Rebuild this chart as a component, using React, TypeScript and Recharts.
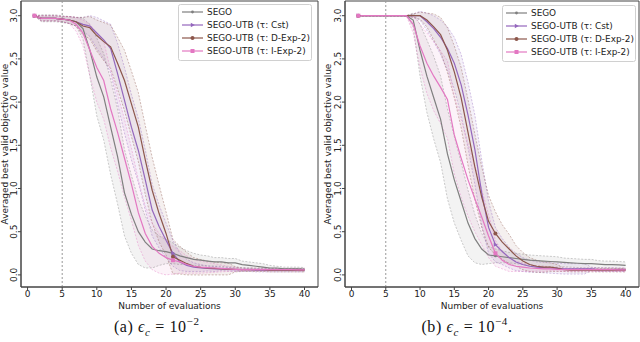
import React from "react";
import {
  ComposedChart,
  Area,
  Line,
  XAxis,
  YAxis,
  ReferenceLine,
  ReferenceArea,
} from "recharts";

const evaluations = [
  1, 2, 3, 4, 5, 6, 7, 8, 9, 10, 11, 12, 13, 14, 15, 16, 17, 18, 19, 20, 21,
  22, 23, 24, 25, 26, 27, 28, 29, 30, 31, 32, 33, 34, 35, 36, 37, 38, 39, 40,
];
const xTicks = [0, 5, 10, 15, 20, 25, 30, 35, 40];
const yTicks = [0, 0.5, 1.0, 1.5, 2.0, 2.5, 3.0];

// (a) eps_c = 1e-2
const segoMeanA = [3.0, 2.97, 2.97, 2.97, 2.96, 2.95, 2.93, 2.85, 2.6, 2.29, 2.06, 1.71, 1.37, 0.95, 0.7, 0.5, 0.38, 0.3, 0.28, 0.27, 0.25, 0.22, 0.2, 0.18, 0.17, 0.16, 0.15, 0.15, 0.14, 0.14, 0.12, 0.11, 0.1, 0.09, 0.08, 0.08, 0.07, 0.07, 0.07, 0.065];
const segoStdA = [0, 0.04, 0.04, 0.04, 0.04, 0.04, 0.05, 0.12, 0.3, 0.45, 0.5, 0.55, 0.55, 0.5, 0.45, 0.38, 0.3, 0.22, 0.17, 0.14, 0.12, 0.1, 0.08, 0.07, 0.06, 0.06, 0.05, 0.05, 0.05, 0.05, 0.04, 0.04, 0.04, 0.04, 0.03, 0.02, 0.02, 0.02, 0.02, 0.02];
const cstMeanA = [3.0, 2.97, 2.97, 2.97, 2.96, 2.95, 2.93, 2.9, 2.88, 2.8, 2.72, 2.62, 2.33, 2.02, 1.71, 1.44, 1.1, 0.75, 0.56, 0.4, 0.25, 0.15, 0.11, 0.09, 0.08, 0.075, 0.07, 0.07, 0.065, 0.06, 0.06, 0.06, 0.055, 0.055, 0.055, 0.055, 0.055, 0.055, 0.055, 0.055];
const cstStdA = [0, 0.03, 0.03, 0.03, 0.03, 0.04, 0.05, 0.08, 0.12, 0.18, 0.22, 0.28, 0.35, 0.38, 0.38, 0.37, 0.35, 0.3, 0.25, 0.2, 0.15, 0.1, 0.07, 0.05, 0.04, 0.03, 0.03, 0.02, 0.02, 0.02, 0.02, 0.02, 0.02, 0.02, 0.02, 0.02, 0.02, 0.02, 0.02, 0.02];
const dexpMeanA = [3.0, 2.97, 2.97, 2.97, 2.96, 2.95, 2.93, 2.88, 2.86, 2.77, 2.7, 2.64, 2.45, 2.25, 1.98, 1.71, 1.33, 0.98, 0.71, 0.48, 0.21, 0.17, 0.13, 0.1, 0.088, 0.08, 0.075, 0.07, 0.068, 0.065, 0.06, 0.06, 0.06, 0.06, 0.055, 0.055, 0.055, 0.055, 0.055, 0.055];
const dexpStdA = [0, 0.03, 0.03, 0.03, 0.03, 0.04, 0.05, 0.1, 0.13, 0.18, 0.22, 0.25, 0.3, 0.35, 0.38, 0.4, 0.4, 0.38, 0.33, 0.25, 0.2, 0.16, 0.13, 0.1, 0.09, 0.08, 0.075, 0.07, 0.068, 0.03, 0.02, 0.02, 0.02, 0.02, 0.02, 0.02, 0.02, 0.02, 0.02, 0.02];
const iexpMeanA = [3.0, 2.97, 2.97, 2.97, 2.96, 2.95, 2.9, 2.8, 2.6, 2.4, 2.25, 1.92, 1.65, 1.35, 1.05, 0.72, 0.48, 0.33, 0.25, 0.2, 0.17, 0.15, 0.12, 0.1, 0.09, 0.085, 0.08, 0.075, 0.07, 0.065, 0.06, 0.06, 0.06, 0.06, 0.06, 0.06, 0.06, 0.06, 0.058, 0.058];
const iexpStdA = [0, 0.03, 0.03, 0.03, 0.03, 0.04, 0.08, 0.15, 0.3, 0.4, 0.45, 0.45, 0.45, 0.45, 0.42, 0.38, 0.32, 0.27, 0.23, 0.2, 0.16, 0.13, 0.1, 0.08, 0.07, 0.06, 0.05, 0.04, 0.03, 0.02, 0.01, 0.01, 0.01, 0.01, 0.01, 0.01, 0.01, 0.01, 0.01, 0.01];

// (b) eps_c = 1e-4
const segoMeanB = [3.0, 3.0, 3.0, 3.0, 3.0, 3.0, 3.0, 3.0, 2.95, 2.6, 2.3, 2.05, 1.8, 1.4, 1.1, 0.85, 0.6, 0.42, 0.3, 0.23, 0.22, 0.21, 0.2, 0.19, 0.18, 0.17, 0.165, 0.16, 0.155, 0.15, 0.145, 0.14, 0.135, 0.13, 0.13, 0.125, 0.12, 0.12, 0.115, 0.11];
const segoStdB = [0, 0, 0, 0, 0, 0, 0, 0, 0.08, 0.3, 0.42, 0.48, 0.5, 0.52, 0.5, 0.45, 0.38, 0.28, 0.18, 0.1, 0.08, 0.07, 0.06, 0.06, 0.06, 0.06, 0.06, 0.06, 0.06, 0.06, 0.05, 0.05, 0.05, 0.05, 0.05, 0.04, 0.04, 0.04, 0.04, 0.04];
const cstMeanB = [3.0, 3.0, 3.0, 3.0, 3.0, 3.0, 3.0, 3.0, 3.0, 3.0, 2.93, 2.85, 2.75, 2.62, 2.45, 2.2, 1.85, 1.45, 0.95, 0.55, 0.35, 0.27, 0.2, 0.15, 0.12, 0.1, 0.09, 0.085, 0.08, 0.075, 0.07, 0.07, 0.07, 0.07, 0.07, 0.06, 0.06, 0.06, 0.06, 0.06];
const cstStdB = [0, 0, 0, 0, 0, 0, 0, 0, 0.02, 0.05, 0.1, 0.15, 0.2, 0.25, 0.3, 0.35, 0.38, 0.4, 0.38, 0.3, 0.2, 0.15, 0.12, 0.1, 0.08, 0.07, 0.06, 0.06, 0.06, 0.06, 0.06, 0.06, 0.06, 0.06, 0.02, 0.02, 0.02, 0.02, 0.02, 0.02];
const dexpMeanB = [3.0, 3.0, 3.0, 3.0, 3.0, 3.0, 3.0, 3.0, 3.0, 3.0, 2.95, 2.87, 2.78, 2.6, 2.35, 2.05, 1.65, 1.25, 0.9, 0.62, 0.48, 0.38, 0.3, 0.22, 0.16, 0.12, 0.1, 0.09, 0.09, 0.08, 0.06, 0.055, 0.055, 0.055, 0.055, 0.055, 0.055, 0.055, 0.055, 0.055];
const dexpStdB = [0, 0, 0, 0, 0, 0, 0, 0, 0.02, 0.04, 0.08, 0.15, 0.2, 0.26, 0.3, 0.35, 0.38, 0.38, 0.35, 0.3, 0.25, 0.2, 0.17, 0.12, 0.1, 0.08, 0.07, 0.06, 0.05, 0.04, 0.02, 0.02, 0.02, 0.02, 0.02, 0.02, 0.02, 0.02, 0.02, 0.02];
const iexpMeanB = [3.0, 3.0, 3.0, 3.0, 3.0, 3.0, 3.0, 3.0, 2.9, 2.65, 2.45, 2.3, 2.17, 2.03, 1.62, 1.35, 1.1, 0.88, 0.67, 0.45, 0.25, 0.17, 0.12, 0.1, 0.09, 0.08, 0.075, 0.07, 0.07, 0.065, 0.06, 0.06, 0.06, 0.06, 0.06, 0.06, 0.06, 0.06, 0.058, 0.058];
const iexpStdB = [0, 0, 0, 0, 0, 0, 0, 0, 0.1, 0.25, 0.35, 0.4, 0.42, 0.45, 0.45, 0.45, 0.42, 0.38, 0.32, 0.25, 0.15, 0.1, 0.08, 0.06, 0.05, 0.04, 0.03, 0.03, 0.02, 0.02, 0.02, 0.02, 0.02, 0.02, 0.02, 0.02, 0.02, 0.02, 0.02, 0.02];

const SERIES = [
  { key: "sego", name: "SEGO", color: "#7f7f7f", marker: "point" },
  { key: "cst", name: "SEGO-UTB (τ: Cst)", color: "#9467bd", marker: "triangle" },
  { key: "dexp", name: "SEGO-UTB (τ: D-Exp-2)", color: "#8c564b", marker: "circle" },
  { key: "iexp", name: "SEGO-UTB (τ: I-Exp-2)", color: "#e377c2", marker: "square" },
];

const FONT = "DejaVu Sans, sans-serif";

function buildRows(means: Record<string, number[]>, stds: Record<string, number[]>) {
  return evaluations.map((x, i) => {
    const row: any = { x };
    SERIES.forEach((s) => {
      const m = means[s.key][i];
      const d = stds[s.key][i];
      row[s.key] = m;
      row[s.key + "Lo"] = m - d;
      row[s.key + "Hi"] = m + d;
      row[s.key + "Band"] = [m - d, m + d];
    });
    return row;
  });
}

const rowsA = buildRows(
  { sego: segoMeanA, cst: cstMeanA, dexp: dexpMeanA, iexp: iexpMeanA },
  { sego: segoStdA, cst: cstStdA, dexp: dexpStdA, iexp: iexpStdA }
);
const rowsB = buildRows(
  { sego: segoMeanB, cst: cstMeanB, dexp: dexpMeanB, iexp: iexpMeanB },
  { sego: segoStdB, cst: cstStdB, dexp: dexpStdB, iexp: iexpStdB }
);

function marker(shape: string, cx: number, cy: number, color: string) {
  if (shape === "square")
    return <rect x={cx - 2} y={cy - 2} width={4} height={4} fill={color} />;
  if (shape === "triangle")
    return <polygon points={`${cx + 2.3},${cy} ${cx - 1.7},${cy - 2.2} ${cx - 1.7},${cy + 2.2}`} fill={color} />;
  if (shape === "circle") return <circle cx={cx} cy={cy} r={2} fill={color} />;
  return <circle cx={cx} cy={cy} r={1.4} fill={color} />;
}

const YTick = (p: any) => (
  <text
    x={p.x}
    y={p.y}
    transform={`rotate(-90 ${p.x} ${p.y})`}
    textAnchor="middle"
    fontSize={9}
    fontFamily={FONT}
    fill="#222"
  >
    {Number(p.payload.value).toFixed(1)}
  </text>
);

function LegendBox({ left, top }: { left: number; top: number }) {
  return (
    <svg
      width={135}
      height={58}
      style={{ position: "absolute", left, top, overflow: "visible" }}
    >
      <rect x={0.5} y={0.5} width={133} height={56} rx={2} fill="#fff" fillOpacity={0.8} stroke="#d0d0d0" />
      {SERIES.map((s, i) => {
        const cy = 8 + i * 13;
        return (
          <g key={s.key}>
            <line x1={4} x2={25} y1={cy} y2={cy} stroke={s.color} strokeWidth={1.2} />
            {marker(s.marker, 14.5, cy, s.color)}
            <text x={29} y={cy + 3.2} fontSize={8.9} fontFamily={FONT} fill="#222">
              {s.name}
            </text>
          </g>
        );
      })}
    </svg>
  );
}

function Panel({
  left,
  rows,
  yAxisWidth,
  marginRight,
  legendLeft,
  legendTop,
  labelX,
  captionX,
  caption,
}: {
  left: number;
  rows: any[];
  yAxisWidth: number;
  marginRight: number;
  legendLeft: number;
  legendTop: number;
  labelX: number;
  captionX: number;
  caption: React.ReactNode;
}) {
  return (
    <div style={{ position: "absolute", left, top: 0, width: 320, height: 342 }}>
      <ComposedChart
        width={320}
        height={310}
        data={rows}
        margin={{ top: 1, right: marginRight, bottom: 0, left: 0 }}
      >
        <XAxis
          dataKey="x"
          type="number"
          domain={[-0.95, 41.95]}
          ticks={xTicks}
          allowDataOverflow
          height={23}
          tickSize={3}
          tickMargin={1}
          stroke="#444"
          tick={{ fontSize: 9, fontFamily: FONT, fill: "#222" }}
          label={{
            value: "Number of evaluations",
            position: "insideBottom",
            offset: 1,
            style: { fontSize: 9, fontFamily: FONT, fill: "#222" },
          }}
        />
        <YAxis
          type="number"
          domain={[-0.14, 3.17]}
          ticks={yTicks}
          allowDataOverflow
          width={yAxisWidth}
          tickSize={3}
          tickMargin={1}
          stroke="#444"
          tick={<YTick />}
        />
        {SERIES.map((s) => (
          <Area
            key={s.key + "Band"}
            dataKey={s.key + "Band"}
            stroke="none"
            fill={s.color}
            fillOpacity={0.09}
            isAnimationActive={false}
            activeDot={false}
          />
        ))}
        {SERIES.flatMap((s) =>
          ["Lo", "Hi"].map((b) => (
            <Line
              key={s.key + b}
              dataKey={s.key + b}
              stroke={s.color}
              strokeOpacity={0.5}
              strokeWidth={0.8}
              strokeDasharray="2 1.5"
              dot={false}
              activeDot={false}
              isAnimationActive={false}
            />
          ))
        )}
        <ReferenceLine x={5} stroke="#999" strokeDasharray="2 2" strokeWidth={1} />
        {SERIES.map((s) => (
          <Line
            key={s.key}
            dataKey={s.key}
            name={s.name}
            stroke={s.color}
            strokeWidth={1.2}
            activeDot={false}
            isAnimationActive={false}
            dot={(p: any) =>
              p.index === 0 || p.index === 20 ? (
                <g key={p.index}>{marker(s.marker, p.cx, p.cy, s.color)}</g>
              ) : (
                <g key={p.index} />
              )
            }
          />
        ))}
        <ReferenceArea x1={-0.95} x2={41.95} y1={-0.14} y2={3.17} fill="none" stroke="#444" strokeWidth={1} />
      </ComposedChart>
      <LegendBox left={legendLeft} top={legendTop} />
      <div
        style={{
          position: "absolute",
          left: labelX,
          top: 144,
          transform: "translate(-50%, -50%) rotate(-90deg)",
          whiteSpace: "nowrap",
          fontSize: 9,
          fontFamily: FONT,
          color: "#222",
        }}
      >
        Averaged best valid objective value
      </div>
      <div
        style={{
          position: "absolute",
          left: captionX,
          top: 327,
          transform: "translate(-50%, -50%)",
          whiteSpace: "nowrap",
          fontSize: 16,
          letterSpacing: 0.6,
          fontFamily: "Liberation Serif, serif",
          color: "#111",
        }}
      >
        {caption}
      </div>
    </div>
  );
}

function Caption({ tag, exp }: { tag: string; exp: string }) {
  return (
    <span>
      ({tag})&nbsp;<i>ϵ</i>
      <sub style={{ fontSize: 11, fontStyle: "italic" }}>c</sub>
      &nbsp;=&nbsp;10
      <sup style={{ fontSize: 11 }}>{exp}</sup>.
    </span>
  );
}

export default function App() {
  return (
    <div
      style={{
        position: "absolute",
        left: 0,
        top: 0,
        width: 640,
        height: 342,
        background: "#fff",
        overflow: "hidden",
      }}
    >
      <Panel
        left={0}
        rows={rowsA}
        yAxisWidth={21}
        marginRight={2}
        legendLeft={178}
        legendTop={4}
        labelX={5}
        captionX={159}
        caption={<Caption tag="a" exp="−2" />}
      />
      <Panel
        left={320}
        rows={rowsB}
        yAxisWidth={25}
        marginRight={1}
        legendLeft={182}
        legendTop={5}
        labelX={8}
        captionX={147}
        caption={<Caption tag="b" exp="−4" />}
      />
    </div>
  );
}
